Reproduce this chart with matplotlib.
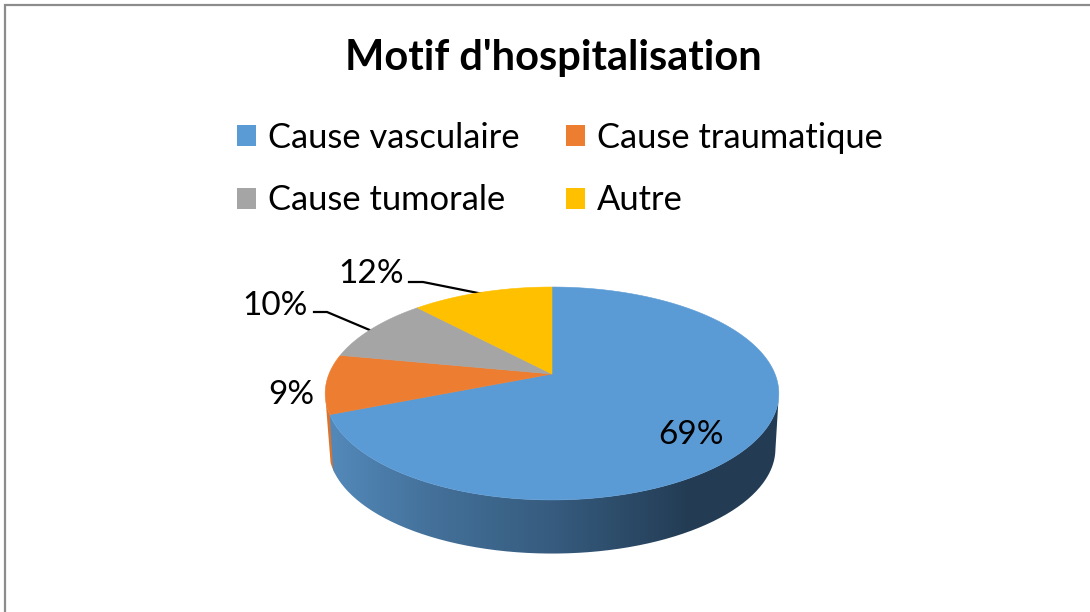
"""Pie "Motif d'hospitalisation", drawn as a tilted 3D disc in pixel coordinates."""
import matplotlib

matplotlib.use("Agg")
import matplotlib.pyplot as plt
import numpy as np
from matplotlib.colors import LinearSegmentedColormap
from matplotlib.patches import PathPatch, Polygon, Rectangle
from matplotlib.path import Path

TITLE = "Motif d'hospitalisation"
CATEGORIES = ["Cause vasculaire", "Cause traumatique", "Cause tumorale", "Autre"]
VALUES = [69, 9, 10, 12]
COLORS = ["#5B9BD5", "#ED7D31", "#A5A5A5", "#FFC000"]

W, H = 1090, 612
CX, CY = 552, 374      # apex of the slices
PX_K, PY_A, PERSP = 223, 102.9, 0.183   # tilt of the disc
RIM_DY, RIM_SCALE = 55.5, 0.985

plt.rcParams.update({"font.family": ["Lato", "DejaVu Sans"], "text.color": "black"})


def project(theta, scale=1.0, dy=0.0):
    # theta in degrees, clockwise from the top of the disc
    t = np.radians(theta)
    u, v = np.sin(t), np.cos(t)
    d = 1 + PERSP * v
    return CX + scale * PX_K * u / d, CY + dy - scale * PY_A * v / d


def arc(t0, t1, scale=1.0, dy=0.0):
    ts = np.linspace(t0, t1, 200)
    x, y = project(ts, scale, dy)
    return np.column_stack([x, y])


def main():
    fig = plt.figure(figsize=(W / 100, H / 100), dpi=100)
    ax = fig.add_axes([0, 0, 1, 1])
    ax.axis("off")

    # chart frame: only top and left edges are in the crop
    ax.plot([5, 5, W], [H, 4.5, 4.5], color="#8c8c8c", lw=1.6, solid_joinstyle="miter")

    edges = np.cumsum([0] + VALUES) / sum(VALUES) * 360

    # rim: orange sliver on the far left, then blue side with a shading gradient
    orange_rim = np.vstack([arc(edges[1] - 2, 256), arc(252, edges[1] - 2, RIM_SCALE, RIM_DY)])
    ax.add_patch(Polygon(orange_rim, closed=True, fc="#D9742E", ec="none", zorder=1))

    rim = np.vstack([arc(101, edges[1]), arc(edges[1], 101, RIM_SCALE, RIM_DY)])
    shade = LinearSegmentedColormap.from_list(
        "shade", [(0.0, "#5389BA"), (0.22, "#44719A"), (0.5, "#365B7E"),
                  (0.8, "#233C54"), (1.0, "#233C54")])
    im = ax.imshow(np.linspace(0, 1, 256)[None, :], cmap=shade, aspect="auto",
                   extent=(330, 780, 560, 390), zorder=2)
    im.set_clip_path(PathPatch(Path(np.vstack([rim, rim[:1]])), transform=ax.transData))

    # top face
    for i, c in enumerate(COLORS):
        pts = np.vstack([[CX, CY], arc(edges[i], edges[i + 1]), [CX, CY]])
        ax.add_patch(Polygon(pts, closed=True, fc=c, ec=c, lw=0.4, zorder=3))

    ax.text(553, 58, TITLE, fontsize=30, fontweight="bold", ha="center", va="center")

    # legend
    leg_x = [237, 566, 237, 566]
    leg_y = [135.5, 135.5, 198.5, 198.5]
    for name, c, x, y in zip(CATEGORIES, COLORS, leg_x, leg_y):
        ax.add_patch(Rectangle((x, y - 10.5), 19, 21, fc=c, ec="none"))
        ax.text(x + 31, y + 2, name, fontsize=24.8, ha="left", va="center")

    # data labels and leader lines
    lab_pos = [(691, 435), (291, 395), (275, 306), (371, 274)]
    for v, (x, y) in zip(VALUES, lab_pos):
        ax.text(x, y, f"{v}%", fontsize=24, ha="center", va="center")
    ax.plot([314, 327, 372], [312, 312, 331], color="black", lw=1.6)
    ax.plot([409, 423, 483], [282, 282, 294], color="black", lw=1.6)

    ax.set_xlim(0, W)
    ax.set_ylim(H, 0)
    fig.savefig("out.png", dpi=100, facecolor="white")
    plt.close(fig)


if __name__ == "__main__":
    main()
